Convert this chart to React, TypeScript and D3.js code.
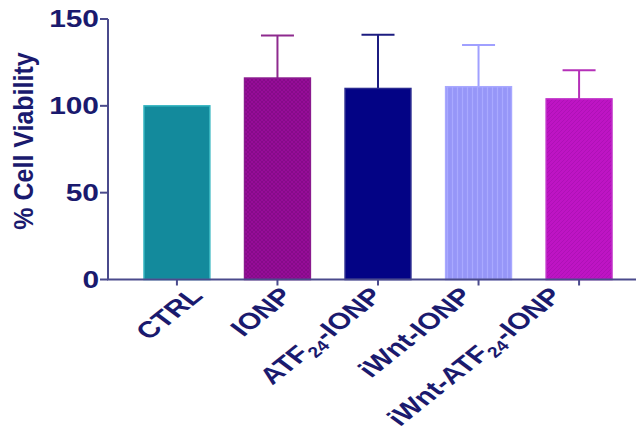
import React from "react";
import * as d3 from "d3";

const categories = ["CTRL", "IONP", "ATF24-IONP", "iWnt-IONP", "iWnt-ATF24-IONP"];
const means = [100, 116, 110, 111, 104];
const errors = [0, 24.5, 31, 24, 16.5];
const yTicks = [0, 50, 100, 150];
const fills = ["#138A9C", "#960C98", "#030385", "#9696F8", "#BE14C4"];
const strokes = ["#35B5C0", "#8A1A8E", "#2A2A90", "#A8A8FF", "#C030C8"];
const errColors = ["#138A9C", "#8E2A8E", "#1C1C80", "#A0A0FF", "#B530B8"];

const W = 636;
const H = 433;
const axisColor = "#4A4A8C";
const textColor = "#1A1A6E";
const font = "'Liberation Sans', Arial, sans-serif";
const SX = 1.3;

function Label({ text }: { text: string }) {
  const m = text.match(/^(.*?)24(.*)$/);
  if (!m) return <>{text}</>;
  return (
    <>
      {m[1]}
      <tspan fontSize="15" dy="5">24</tspan>
      <tspan dy="-5">{m[2]}</tspan>
    </>
  );
}

export default function App() {
  const y = d3.scaleLinear().domain([0, 150]).range([279.5, 19]);
  const x = d3
    .scaleBand<string>()
    .domain(categories)
    .range([108, 648])
    .paddingInner(0.345)
    .paddingOuter(0.358);
  const lab = d3
    .scaleBand<string>()
    .domain(categories)
    .range([108, 590.3])
    .paddingInner(0.345)
    .paddingOuter(0.358);
  const bw = x.bandwidth();
  const capW = 33;
  return (
    <svg
      width={W}
      height={H}
      style={{ position: "absolute", left: 0, top: 0, background: "#fff" }}
      fontFamily={font}
    >
      <defs>
        <pattern id="p1" width="4" height="4" patternUnits="userSpaceOnUse">
          <rect width="4" height="4" fill={fills[1]} />
          <path d="M0,4 L4,0 M0,0 L4,4" stroke="#7A0A80" strokeWidth="0.6" />
        </pattern>
        <pattern id="p3" width="5" height="5" patternUnits="userSpaceOnUse">
          <rect width="5" height="5" fill={fills[3]} />
          <path d="M2.5,0 L2.5,5" stroke="#A9A9FF" strokeWidth="1.2" />
        </pattern>
        <pattern id="p4" width="4" height="4" patternUnits="userSpaceOnUse">
          <rect width="4" height="4" fill={fills[4]} />
          <path d="M0,4 L4,0" stroke="#A810B0" strokeWidth="0.7" />
        </pattern>
      </defs>
      {categories.map((c, i) => {
        const x0 = x(c)!;
        const cx = x0 + bw / 2;
        const fill = i === 1 ? "url(#p1)" : i === 3 ? "url(#p3)" : i === 4 ? "url(#p4)" : fills[i];
        return (
          <g key={c}>
            {errors[i] > 0 && (
              <g stroke={errColors[i]} strokeWidth={2}>
                <line x1={cx} x2={cx} y1={y(means[i])} y2={y(means[i] + errors[i])} />
                <line
                  x1={cx - capW / 2}
                  x2={cx + capW / 2}
                  y1={y(means[i] + errors[i])}
                  y2={y(means[i] + errors[i])}
                />
              </g>
            )}
            <rect
              x={x0}
              y={y(means[i])}
              width={bw}
              height={y(0) - y(means[i])}
              fill={fill}
              stroke={strokes[i]}
              strokeWidth={1.5}
            />
          </g>
        );
      })}
      {/* y axis */}
      <line x1={108} x2={108} y1={y(150)} y2={y(0)} stroke={axisColor} strokeWidth={2} />
      {yTicks.map((t) => (
        <g key={t}>
          <line x1={100} x2={108} y1={y(t)} y2={y(t)} stroke={axisColor} strokeWidth={2} />
          <text
            transform={`translate(99,${y(t)}) scale(${SX},1)`}
            textAnchor="end"
            dy="0.36em"
            fontSize="23"
            fontWeight="bold"
            fill={textColor}
          >
            {t}
          </text>
        </g>
      ))}
      {/* x axis */}
      <line x1={107} x2={636} y1={y(0)} y2={y(0)} stroke={axisColor} strokeWidth={2} />
      {categories.map((c) => {
        const cx = x(c)! + bw / 2;
        return (
          <line key={c} x1={cx} x2={cx} y1={y(0)} y2={y(0) + 6} stroke={axisColor} strokeWidth={2} />
        );
      })}
      {categories.map((c) => {
        const lx = lab(c)! + lab.bandwidth() / 2 + 34.6;
        return (
          <text
            key={c}
            transform={`translate(${lx},297) scale(${SX},1) rotate(-46)`}
            textAnchor="end"
            fontSize="23"
            fontWeight="bold"
            fill={textColor}
          >
            <Label text={c} />
          </text>
        );
      })}
      <text
        transform={`translate(33,141) scale(1.1,1) rotate(-90)`}
        textAnchor="middle"
        fontSize="25"
        fontWeight="bold"
        fill={textColor}
      >
        % Cell Viability
      </text>
    </svg>
  );
}
